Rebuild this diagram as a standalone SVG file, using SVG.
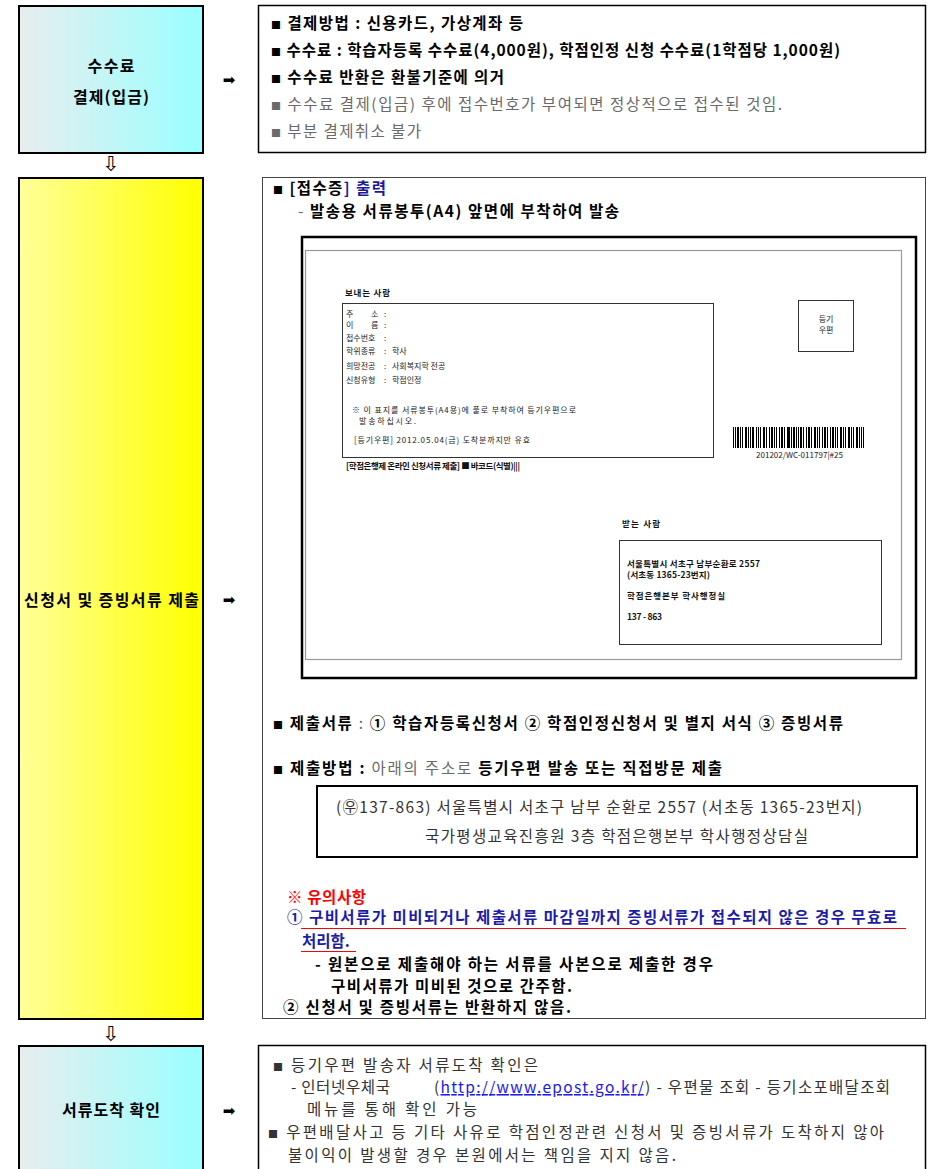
<svg xmlns="http://www.w3.org/2000/svg" width="934" height="1169" viewBox="0 0 934 1169">
<defs>
<linearGradient id="gc" x1="0" y1="0" x2="1" y2="0"><stop offset="0" stop-color="#e9edee"/><stop offset="1" stop-color="#99ffff"/></linearGradient>
<linearGradient id="gy" x1="0" y1="0" x2="1" y2="0"><stop offset="0" stop-color="#ffff99"/><stop offset="1" stop-color="#ffff00"/></linearGradient>
</defs>
<style>
text{font-family:"Noto Sans CJK KR","Liberation Sans",sans-serif;}
.t{font-size:15.5px;fill:#000}
.b{font-weight:bold}
.g{fill:#6a6a6a}
.d{fill:#333}
.sq{font-size:10px}
.lbl{font-size:16px;font-weight:bold;text-anchor:middle;fill:#000}
.box{fill:#fff;stroke:#000;stroke-width:1.5}
.lbox{stroke:#000;stroke-width:2}
.e{font-size:8px;fill:#222}
.eb{font-size:8.5px;fill:#111;font-weight:bold}
.arr{font-family:"DejaVu Sans",sans-serif;font-size:15px;text-anchor:middle}
.darr{font-family:"DejaVu Sans",sans-serif;font-size:21px;text-anchor:middle}
</style>
<rect width="934" height="1169" fill="#fff"/>

<g id="connectors">
<text class="arr" x="229" y="85">➡</text>
<text class="darr" x="111" y="171">⇩</text>
<text class="arr" x="229" y="605">➡</text>
<text class="darr" x="111" y="1041">⇩</text>
<text class="arr" x="229" y="1116">➡</text>
</g>

<g id="node-fee">
<rect class="lbox" x="19" y="6" width="184" height="147" fill="url(#gc)"/>
<text class="lbl" x="111" y="72" textLength="47" lengthAdjust="spacing">수수료</text>
<text class="lbl" x="111" y="103" textLength="76" lengthAdjust="spacing">결제(입금)</text>
</g>

<g id="node-fee-detail">
<rect class="box" x="258.5" y="5.5" width="667" height="147"/>
<text class="t b" x="271" y="29" textLength="252" lengthAdjust="spacing"><tspan class="sq">■</tspan> 결제방법 : 신용카드, 가상계좌 등</text>
<text class="t b" x="271" y="56" textLength="569" lengthAdjust="spacing"><tspan class="sq">■</tspan> 수수료 : 학습자등록 수수료(4,000원), 학점인정 신청 수수료(1학점당 1,000원)</text>
<text class="t b" x="271" y="83" textLength="233" lengthAdjust="spacing"><tspan class="sq">■</tspan> 수수료 반환은 환불기준에 의거</text>
<text class="t g" x="271" y="110" textLength="511" lengthAdjust="spacing"><tspan class="sq">■</tspan> 수수료 결제(입금) 후에 접수번호가 부여되면 정상적으로 접수된 것임.</text>
<text class="t g" x="271" y="137" textLength="150" lengthAdjust="spacing"><tspan class="sq">■</tspan> 부분 결제취소 불가</text>
</g>

<g id="node-submit">
<rect class="lbox" x="19" y="178" width="184" height="841" fill="url(#gy)"/>
<text class="lbl" x="111.5" y="606" textLength="175" lengthAdjust="spacing">신청서 및 증빙서류 제출</text>
</g>

<g id="node-submit-detail">
<rect x="262.5" y="177.5" width="663" height="841" fill="#fff" stroke="#444" stroke-width="1"/>
<text class="t b" x="273" y="194" textLength="113" lengthAdjust="spacing"><tspan class="sq">■</tspan> [접수증<tspan fill="#1a1a99">] 출력</tspan></text>
<text class="t b" x="298" y="217" textLength="321" lengthAdjust="spacing"><tspan class="g" font-weight="normal">-</tspan> 발송용 서류봉투(A4) 앞면에 부착하여 발송</text>

<g id="envelope">
<rect x="302" y="237" width="614" height="441" fill="#fff" stroke="#000" stroke-width="2.5"/>
<rect x="305.5" y="250.5" width="596" height="409" fill="none" stroke="#999" stroke-width="1.2"/>
<text class="eb" x="345" y="296" textLength="45" lengthAdjust="spacing">보내는 사람</text>
<rect x="342.5" y="303.5" width="371" height="154" fill="none" stroke="#333" stroke-width="1"/>
<text class="e" y="317"><tspan x="346">주</tspan><tspan x="371">소</tspan><tspan x="384">:</tspan></text>
<text class="e" y="328"><tspan x="346">이</tspan><tspan x="371">름</tspan><tspan x="384">:</tspan></text>
<text class="e" y="341"><tspan x="346">접수번호</tspan><tspan x="384">:</tspan></text>
<text class="e" y="354"><tspan x="346">학위종류</tspan><tspan x="384">:</tspan><tspan x="392">학사</tspan></text>
<text class="e" y="369"><tspan x="346">희망전공</tspan><tspan x="384">:</tspan><tspan x="392">사회복지학 전공</tspan></text>
<text class="e" y="383"><tspan x="346">신청유형</tspan><tspan x="384">:</tspan><tspan x="392">학점인정</tspan></text>
<text class="e" x="352" y="413" textLength="224" lengthAdjust="spacing">※ 이 표지를 서류봉투(A4용)에 풀로 부착하여 등기우편으로</text>
<text class="e" x="359" y="424" textLength="57" lengthAdjust="spacing">발송하십시오.</text>
<text class="e" x="354" y="443" textLength="176" lengthAdjust="spacing">[등기우편]  2012.05.04(금) 도착분까지만 유효</text>
<text class="eb" x="346" y="469" font-size="7" textLength="174" lengthAdjust="spacing">[학점은행제 온라인 신청서류 제출] ■ 바코드(식별)|||</text>

<rect x="798.5" y="300.5" width="55" height="51" fill="none" stroke="#333" stroke-width="1"/>
<text class="e" x="826" y="322" text-anchor="middle">등기</text>
<text class="e" x="826" y="333" text-anchor="middle">우편</text>

<path fill="#000" d="M733 427h1v21h-1zM735 427h1v21h-1zM737 427h2v21h-2zM740 427h1v21h-1zM742 427h1v21h-1zM745 427h2v21h-2zM748 427h1v21h-1zM750 427h1v21h-1zM752 427h2v21h-2zM756 427h1v21h-1zM758 427h1v21h-1zM760 427h1v21h-1zM763 427h2v21h-2zM766 427h1v21h-1zM769 427h1v21h-1zM771 427h2v21h-2zM774 427h1v21h-1zM776 427h1v21h-1zM779 427h1v21h-1zM781 427h2v21h-2zM784 427h1v21h-1zM787 427h3v21h-3zM791 427h1v21h-1zM793 427h2v21h-2zM796 427h1v21h-1zM798 427h1v21h-1zM800 427h2v21h-2zM803 427h1v21h-1zM806 427h1v21h-1zM808 427h2v21h-2zM811 427h1v21h-1zM814 427h2v21h-2zM817 427h1v21h-1zM819 427h1v21h-1zM822 427h1v21h-1zM824 427h2v21h-2zM827 427h1v21h-1zM830 427h1v21h-1zM832 427h2v21h-2zM835 427h1v21h-1zM837 427h1v21h-1zM840 427h2v21h-2zM843 427h1v21h-1zM845 427h1v21h-1zM848 427h2v21h-2zM851 427h1v21h-1zM853 427h1v21h-1zM856 427h2v21h-2zM859 427h1v21h-1zM861 427h1v21h-1zM863 427h1v21h-1z"/>
<text class="e" x="756" y="458" font-size="6.5" textLength="87" lengthAdjust="spacing">201202/WC-011797|#25</text>

<text class="eb" x="622" y="527" textLength="38" lengthAdjust="spacing">받는 사람</text>
<rect x="619.5" y="540.5" width="262" height="104" fill="none" stroke="#333" stroke-width="1"/>
<text class="eb" x="627" y="567" textLength="133" lengthAdjust="spacing">서울특별시 서초구 남부순환로 2557</text>
<text class="eb" x="627" y="578" textLength="83" lengthAdjust="spacing">(서초동 1365-23번지)</text>
<text class="eb" x="627" y="599" textLength="98" lengthAdjust="spacing">학점은행본부 학사행정실</text>
<text class="eb" x="627" y="620" textLength="35" lengthAdjust="spacing">137 - 863</text>
</g>

<text class="t b" x="273" y="729" textLength="570" lengthAdjust="spacing"><tspan class="sq">■</tspan> 제출서류 <tspan font-weight="normal" class="g">:</tspan> ① 학습자등록신청서 ② 학점인정신청서 및 별지 서식 ③ 증빙서류</text>
<text class="t b" x="273" y="774" textLength="449" lengthAdjust="spacing"><tspan class="sq">■</tspan> 제출방법 : <tspan font-weight="normal" class="g">아래의 주소로</tspan> 등기우편 발송 또는 직접방문 제출</text>

<rect x="317" y="786" width="600" height="71" fill="#fff" stroke="#000" stroke-width="2"/>
<text class="t d" x="336" y="813" textLength="526" lengthAdjust="spacing">(㉾137-863) 서울특별시 서초구 남부 순환로 2557 (서초동 1365-23번지)</text>
<text class="t d" x="425" y="842" textLength="383" lengthAdjust="spacing">국가평생교육진흥원 3층 학점은행본부 학사행정상담실</text>

<text class="t b" x="287" y="903" style="fill:#ff0000" textLength="79" lengthAdjust="spacing">※ 유의사항</text>
<text class="t b" x="287" y="923" style="fill:#1c1ca8" textLength="610" lengthAdjust="spacing">① 구비서류가 미비되거나 제출서류 마감일까지 증빙서류가 접수되지 않은 경우 무효로</text>
<line x1="301" y1="928.5" x2="906" y2="928.5" stroke="#ff0000" stroke-width="1"/>
<text class="t b" x="302" y="947" style="fill:#1c1ca8">처리함.</text>
<line x1="301" y1="951.5" x2="356" y2="951.5" stroke="#ff0000" stroke-width="1"/>
<text class="t b" x="315" y="970" textLength="398" lengthAdjust="spacing">- 원본으로 제출해야 하는 서류를 사본으로 제출한 경우</text>
<text class="t b" x="331" y="992" textLength="241" lengthAdjust="spacing">구비서류가 미비된 것으로 간주함.</text>
<text class="t b" x="283" y="1013" textLength="288" lengthAdjust="spacing">② 신청서 및 증빙서류는 반환하지 않음.</text>
</g>

<g id="node-arrival">
<rect class="lbox" x="19" y="1046" width="184" height="140" fill="url(#gc)"/>
<text class="lbl" x="111" y="1116" textLength="98" lengthAdjust="spacing">서류도착 확인</text>
</g>

<g id="node-arrival-detail">
<rect class="box" x="258.5" y="1045.5" width="667" height="140"/>
<text class="t d" x="273" y="1071" textLength="265" lengthAdjust="spacing"><tspan class="sq">■</tspan> 등기우편 발송자 서류도착 확인은</text>
<text class="t d" x="291" y="1093" textLength="99" lengthAdjust="spacing">- 인터넷우체국</text>
<text class="t" x="434" y="1093" textLength="456" lengthAdjust="spacing"><tspan fill="#333">(</tspan><tspan fill="#1a1aee" text-decoration="underline">http://www.epost.go.kr/</tspan><tspan fill="#333">) - 우편물 조회 - 등기소포배달조회</tspan></text>
<text class="t d" x="307" y="1115" textLength="170" lengthAdjust="spacing">메뉴를 통해 확인 가능</text>
<text class="t d" x="268" y="1138" textLength="616" lengthAdjust="spacing"><tspan class="sq">■</tspan> 우편배달사고 등 기타 사유로 학점인정관련 신청서 및 증빙서류가 도착하지 않아</text>
<text class="t d" x="288" y="1161" textLength="388" lengthAdjust="spacing">불이익이 발생할 경우 본원에서는 책임을 지지 않음.</text>
</g>
</svg>
